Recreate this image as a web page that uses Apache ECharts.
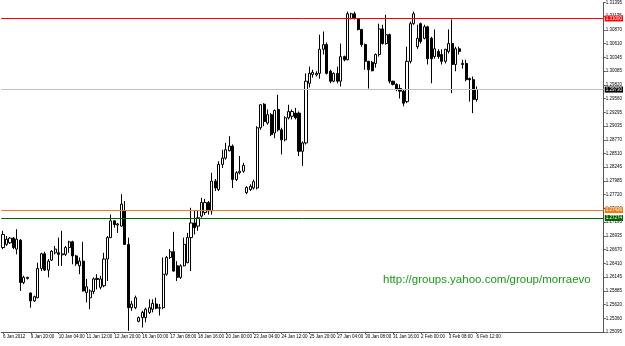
<!DOCTYPE html>
<html><head><meta charset="utf-8">
<script src="https://cdn.jsdelivr.net/npm/echarts@6/dist/echarts.min.js"></script>
<style>html,body{margin:0;padding:0;background:#fff}#c{width:625px;height:346px}</style>
</head><body><div id="c"></div>
<script>
const dateLabels = ["6 Jan 2012","9 Jan 20:00","10 Jan 04:00","11 Jan 12:00","12 Jan 20:00","16 Jan 00:00","17 Jan 08:00","18 Jan 16:00","20 Jan 00:00","23 Jan 04:00","24 Jan 12:00","25 Jan 20:00","27 Jan 04:00","30 Jan 08:00","31 Jan 16:00","2 Feb 00:00","3 Feb 08:00","6 Feb 12:00"];

const opens = [1.2671,1.2677,1.2680,1.2689,1.2668,1.2685,1.2604,1.2612,1.2584,1.2569,
1.2575,1.2631,1.2659,1.2628,1.2647,1.2661,1.2661,1.2657,1.2658,1.2671,
1.2682,1.2655,1.2636,1.2645,1.2585,1.2575,1.2587,1.2612,1.2595,1.2598,
1.2649,1.2690,1.2722,1.2714,1.2712,1.2742,1.2677,1.2556,1.2556,1.2530,
1.2537,1.2537,1.2547,1.2553,1.2563,1.2555,1.2556,1.2620,1.2652,1.2663,
1.2636,1.2614,1.2636,1.2642,1.2690,1.2718,1.2712,1.2731,1.2738,1.2757,
1.2741,1.2798,1.2782,1.2830,1.2842,1.2856,1.2865,1.2801,1.2814,1.2817,
1.2776,1.2782,1.2785,1.2785,1.2900,1.2945,1.2909,1.2925,1.2890,1.2935,
1.2896,1.2877,1.2919,1.2922,1.2928,1.2928,1.2855,1.2871,1.2985,1.3002,
1.3001,1.3004,1.3050,1.3059,1.3008,1.2989,1.3004,1.2989,1.3036,1.3030,
1.3109,1.3118,1.3109,1.3088,1.3059,1.3027,1.3025,1.3023,1.3040,1.3089,
1.3061,1.3078,1.2989,1.2983,1.2975,1.2970,1.2950,1.3027,1.3099,1.3055,
1.3099,1.3071,1.3093,1.3071,1.3036,1.3046,1.3040,1.3027,1.3046,1.3061,
1.3021,1.3051,1.3021,1.3023,1.2994,1.2992,1.2954];

const closes = [1.2696,1.2687,1.2689,1.2671,1.2687,1.2604,1.2614,1.2614,1.2569,1.2577,
1.2631,1.2659,1.2628,1.2645,1.2664,1.2668,1.2658,1.2659,1.2671,1.2682,
1.2655,1.2640,1.2645,1.2588,1.2596,1.2588,1.2611,1.2610,1.2611,1.2649,
1.2690,1.2722,1.2715,1.2716,1.2754,1.2677,1.2556,1.2563,1.2575,1.2537,
1.2547,1.2553,1.2556,1.2564,1.2555,1.2556,1.2620,1.2652,1.2663,1.2626,
1.2614,1.2636,1.2677,1.2690,1.2718,1.2709,1.2728,1.2757,1.2757,1.2741,
1.2798,1.2785,1.2830,1.2842,1.2858,1.2865,1.2801,1.2814,1.2817,1.2828,
1.2786,1.2788,1.2797,1.2900,1.2944,1.2912,1.2925,1.2887,1.2933,1.2896,
1.2877,1.2919,1.2931,1.2931,1.2919,1.2855,1.2871,1.2989,1.3004,1.3006,
1.3004,1.3050,1.3059,1.3004,1.2989,1.3004,1.2989,1.3036,1.3030,1.3118,
1.3118,1.3109,1.3088,1.3059,1.3027,1.3011,1.3009,1.3040,1.3089,1.3061,
1.3078,1.2989,1.2983,1.2973,1.2970,1.2947,1.3027,1.3099,1.3118,1.3071,
1.3065,1.3093,1.3032,1.3032,1.3051,1.3036,1.3027,1.3050,1.3061,1.3021,
1.3051,1.3046,1.3023,1.2992,1.2992,1.2954,1.2973];

const highs = [1.2703,1.2693,1.2691,1.2691,1.2706,1.2687,1.2617,1.2615,1.2585,1.2579,
1.2642,1.2661,1.2663,1.2649,1.2666,1.2674,1.2690,1.2703,1.2674,1.2684,
1.2684,1.2657,1.2652,1.2682,1.2611,1.2591,1.2614,1.2620,1.2617,1.2661,
1.2693,1.2734,1.2723,1.2718,1.2773,1.2760,1.2690,1.2569,1.2579,1.2539,
1.2550,1.2556,1.2572,1.2572,1.2575,1.2563,1.2652,1.2655,1.2668,1.2701,
1.2645,1.2639,1.2690,1.2699,1.2747,1.2741,1.2741,1.2766,1.2764,1.2760,
1.2814,1.2802,1.2836,1.2858,1.2871,1.2884,1.2868,1.2817,1.2846,1.2833,
1.2788,1.2792,1.2801,1.2903,1.2945,1.2947,1.2935,1.2928,1.2935,1.2963,
1.2900,1.2922,1.2944,1.2935,1.2938,1.2931,1.2874,1.3004,1.3017,1.3011,
1.3008,1.3078,1.3084,1.3063,1.3011,1.3006,1.3017,1.3061,1.3038,1.3122,
1.3120,1.3122,1.3110,1.3089,1.3061,1.3028,1.3028,1.3042,1.3099,1.3097,
1.3116,1.3080,1.2990,1.2985,1.2983,1.2973,1.3055,1.3103,1.3122,1.3097,
1.3101,1.3097,1.3095,1.3074,1.3088,1.3050,1.3050,1.3051,1.3088,1.3107,
1.3055,1.3055,1.3030,1.3030,1.2996,1.2998,1.2979];

const lows = [1.2668,1.2674,1.2678,1.2668,1.2658,1.2588,1.2601,1.2610,1.2556,1.2567,
1.2574,1.2626,1.2626,1.2614,1.2645,1.2658,1.2636,1.2636,1.2655,1.2661,
1.2639,1.2636,1.2620,1.2587,1.2566,1.2553,1.2582,1.2591,1.2591,1.2595,
1.2607,1.2689,1.2709,1.2699,1.2711,1.2676,1.2512,1.2550,1.2553,1.2528,
1.2518,1.2528,1.2544,1.2547,1.2553,1.2541,1.2553,1.2617,1.2649,1.2625,
1.2607,1.2611,1.2635,1.2641,1.2626,1.2696,1.2703,1.2728,1.2733,1.2734,
1.2734,1.2779,1.2779,1.2823,1.2839,1.2855,1.2785,1.2798,1.2811,1.2814,
1.2773,1.2779,1.2782,1.2782,1.2896,1.2903,1.2906,1.2884,1.2880,1.2893,
1.2849,1.2874,1.2916,1.2916,1.2916,1.2846,1.2827,1.2868,1.2977,1.2996,
1.2998,1.2994,1.3040,1.3002,1.2985,1.2987,1.2985,1.2979,1.3027,1.3029,
1.3107,1.3107,1.3086,1.3055,1.3011,1.2975,1.3008,1.3015,1.3036,1.3059,
1.3059,1.2985,1.2981,1.2970,1.2956,1.2941,1.2947,1.3023,1.3097,1.3051,
1.3061,1.3069,1.3021,1.2985,1.3032,1.3032,1.3021,1.3023,1.3042,1.2966,
1.3008,1.3040,1.3013,1.2989,1.2950,1.2928,1.2950];

const priceTicks = [1.31395,1.31135,1.30870,1.30610,1.30345,1.30085,1.29820,1.29560,1.29295,1.29035,1.28770,1.28510,1.28245,1.27985,1.27720,1.27460,1.27195,1.26935,1.26670,1.26410,1.26145,1.25885,1.25620,1.25360,1.25095];

const redLevel = 1.31090;
const bidLevel = 1.29730;
const orangeLevel = 1.27426;
const greenLevel = 1.27274;
const watermark = 'http://groups.yahoo.com/group/morraevo';

const slots = 173;
const categories = [];
for (let i = 0; i < slots; i++) categories.push(i % 8 === 0 && i / 8 < dateLabels.length ? dateLabels[i / 8] : '');
const candles = opens.map((o, i) => [o, closes[i], lows[i], highs[i]]);
const showIdx = (i) => i % 8 === 0 && i / 8 < dateLabels.length;
const nearestTick = (v) => priceTicks.reduce((a, b) => Math.abs(b - v) < Math.abs(a - v) ? b : a);
const lvl = (value, lineColor, boxColor) => ({
  yAxis: value,
  lineStyle: { color: lineColor, width: 1, type: 'solid', opacity: 1 },
  label: { show: true, position: 'end', distance: 1, formatter: value.toFixed(5), color: '#ffffff', backgroundColor: boxColor, padding: [1, 1, 0, 1], fontSize: 4.5, fontFamily: 'Liberation Sans' }
});

const chart = echarts.init(document.getElementById('c'), null, { renderer: 'canvas' });
chart.setOption({
  animation: false,
  backgroundColor: '#ffffff',
  grid: { left: 0, right: 19, top: 1, bottom: 14, containLabel: false },
  xAxis: {
    type: 'category', data: categories, boundaryGap: true,
    axisLine: { show: true, lineStyle: { color: '#555', width: 1 } },
    axisTick: { show: true, interval: showIdx, alignWithLabel: true, length: 2, lineStyle: { color: '#555' } },
    axisLabel: { interval: showIdx, align: 'left', fontSize: 4.5, color: '#000', margin: 2, fontFamily: 'Liberation Sans' },
    splitLine: { show: false }
  },
  yAxis: {
    type: 'value', position: 'right', min: 1.25095, max: 1.31395, interval: 0.002625, scale: true,
    axisLine: { show: true, lineStyle: { color: '#555', width: 1 } },
    axisTick: { show: true, length: 2, lineStyle: { color: '#555' } },
    axisLabel: { fontSize: 4.5, color: '#000', margin: 2, fontFamily: 'Liberation Sans', formatter: (v) => nearestTick(v).toFixed(5) },
    splitLine: { show: false }
  },
  graphic: [{
    type: 'text', left: 383, top: 274,
    style: { text: watermark, fill: '#1a9a1a', font: '11.5px "Liberation Sans", Arial, sans-serif' }
  }],
  series: [{
    type: 'candlestick', data: candles, barWidth: 2.6,
    itemStyle: { color: '#ffffff', color0: '#000000', borderColor: '#000000', borderColor0: '#000000', borderWidth: 1 },
    markLine: {
      silent: true, symbol: ['none', 'none'], animation: false, precision: 5,
      data: [
        lvl(redLevel, '#ff0000', '#ff0000'),
        lvl(bidLevel, '#c0c0c0', '#000000'),
        lvl(orangeLevel, '#f07d1a', '#f07d1a'),
        lvl(greenLevel, '#006400', '#006400')
      ]
    }
  }]
});
</script></body></html>
